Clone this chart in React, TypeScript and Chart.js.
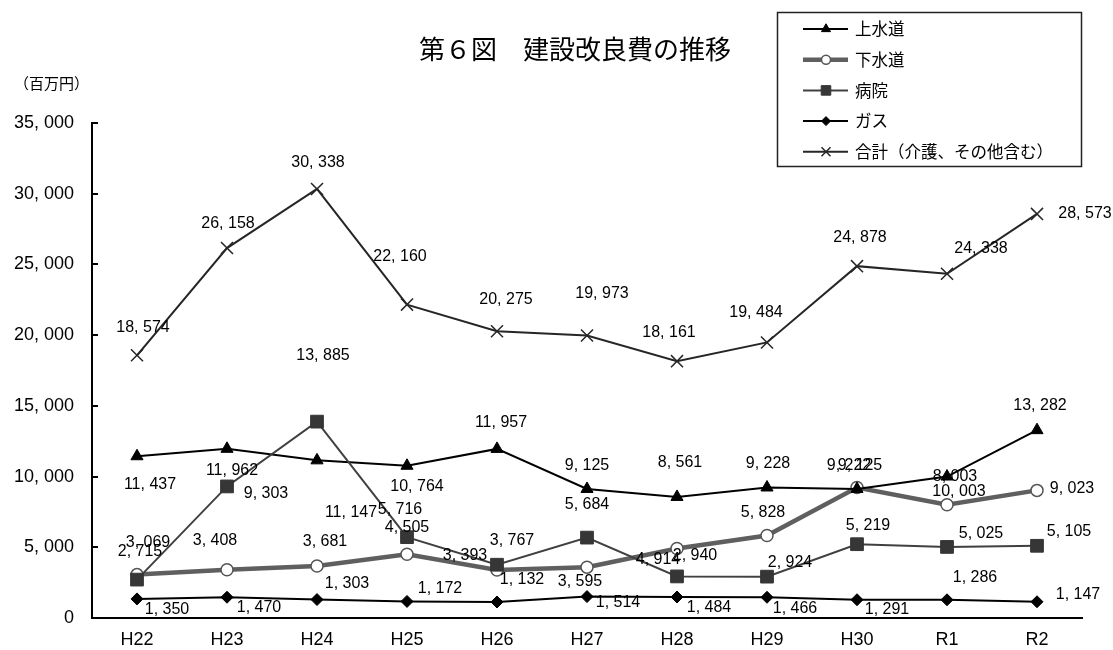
import React, { useEffect, useRef } from 'react';
import { Chart, registerables } from 'chart.js';
import { drawPoint } from 'chart.js/helpers';

Chart.register(...registerables);

// 年度
const categories = ['H22', 'H23', 'H24', 'H25', 'H26', 'H27', 'H28', 'H29', 'H30', 'R1', 'R2'];

// 建設改良費（百万円）
const waterSupply = [11437, 11962, 11147, 10764, 11957, 9125, 8561, 9228, 9125, 10003, 13282];
const sewerage = [3069, 3408, 3681, 4505, 3393, 3595, 4914, 5828, 9222, 8003, 9023];
const hospital = [2715, 9303, 13885, 5716, 3767, 5684, 2940, 2924, 5219, 5025, 5105];
const gas = [1350, 1470, 1303, 1172, 1132, 1514, 1484, 1466, 1291, 1286, 1147];
const total = [18574, 26158, 30338, 22160, 20275, 19973, 18161, 19484, 24878, 24338, 28573];

const seriesNames = ['上水道', '下水道', '病院', 'ガス', '合計（介護、その他含む）'];

const yMin = 0;
const yMax = 35000;
const yStep = 5000;

// data label placement relative to each marker: [dx, dy] in px
const waterSupplyLabelOffsets = [[13, 28], [5, 22], [34, 52], [10, 21], [4, -26], [0, -23], [3, -34], [1, -24], [3, -23], [12, 15], [3, -25]];
const sewerageLabelOffsets = [[11, -32], [-12, -29], [8, -24], [0, -27], [-32, -14], [-7, 14], [-19, 11], [-4, -23], [-8, -22], [8, -28], [35, -2]];
const hospitalLabelOffsets = [[3, -28], [39, 7], [6, -66], [-7, -28], [15, -24], [0, -33], [18, -21], [23, -14], [11, -19], [34, -13], [32, -14]];
const gasLabelOffsets = [[30, 11], [32, 10], [30, -16], [33, -13], [25, -22], [31, 6], [32, 11], [28, 11], [30, 10], [28, -22], [41, -7]];
const totalLabelOffsets = [[6, -28], [1, -24], [1, -26], [-7, -48], [9, -32], [15, -42], [-8, -29], [-11, -30], [3, -29], [34, -25], [48, 0]];
const labelOffsets = [waterSupplyLabelOffsets, sewerageLabelOffsets, hospitalLabelOffsets, gasLabelOffsets, totalLabelOffsets];

const NUM_FONT = "'Liberation Sans', Arial, sans-serif";
const JP_FONT = "'Noto Sans CJK JP', 'Noto Sans', sans-serif";

const fmt = (v: number) => v.toLocaleString('en-US').replace(/,/g, ', ');

const decorPlugin = {
  id: 'decor',
  afterDatasetsDraw(chart: any) {
    const ctx = chart.ctx as CanvasRenderingContext2D;
    const ys = chart.scales.y;
    ctx.save();
    // inward tick marks on the value axis
    ctx.strokeStyle = '#000';
    ctx.lineWidth = 2;
    ys.ticks.forEach((_t: any, i: number) => {
      const py = Math.round(ys.getPixelForTick(i));
      ctx.beginPath();
      ctx.moveTo(ys.right, py);
      ctx.lineTo(ys.right + 6, py);
      ctx.stroke();
    });
    // value labels
    ctx.font = `16px ${NUM_FONT}`;
    ctx.fillStyle = '#000';
    ctx.textAlign = 'center';
    ctx.textBaseline = 'middle';
    chart.data.datasets.forEach((ds: any, di: number) => {
      const meta = chart.getDatasetMeta(di);
      const offs = labelOffsets[di];
      meta.data.forEach((pt: any, i: number) => {
        const [dx, dy] = offs[i];
        ctx.fillText(fmt(ds.data[i]), pt.x + dx, pt.y + dy);
      });
    });
    ctx.restore();
  },
  afterDraw(chart: any) {
    const ctx = chart.ctx as CanvasRenderingContext2D;
    ctx.save();
    ctx.fillStyle = '#000';
    ctx.textBaseline = 'middle';

    // title
    ctx.font = `26px ${JP_FONT}`;
    ctx.textAlign = 'center';
    ctx.fillText('第６図　建設改良費の推移', 575, 49);

    // unit
    ctx.font = `15px ${JP_FONT}`;
    ctx.textAlign = 'left';
    ctx.fillText('（百万円）', 14, 83);

    // legend
    const boxL = 777, boxT = 12, boxW = 304, boxH = 154;
    ctx.strokeStyle = '#222';
    ctx.lineWidth = 1.5;
    ctx.strokeRect(boxL + 0.5, boxT + 0.5, boxW, boxH);
    ctx.font = `16.5px ${JP_FONT}`;
    chart.data.datasets.forEach((ds: any, i: number) => {
      const cy = 29 + i * 30.7;
      ctx.strokeStyle = ds.borderColor;
      ctx.lineWidth = ds.borderWidth;
      ctx.beginPath();
      ctx.moveTo(803, cy);
      ctx.lineTo(848, cy);
      ctx.stroke();
      ctx.fillStyle = ds.pointBackgroundColor;
      ctx.strokeStyle = ds.pointBorderColor;
      ctx.lineWidth = ds.pointBorderWidth;
      drawPoint(ctx, {
        pointStyle: ds.pointStyle,
        rotation: 0,
        radius: ds.pointRadius * 0.75,
        borderWidth: ds.pointBorderWidth,
      }, 826, cy);
      ctx.fillStyle = '#000';
      ctx.fillText(seriesNames[i], 855, cy);
    });
    ctx.restore();
  },
};

export default function App() {
  const canvasRef = useRef<HTMLCanvasElement | null>(null);

  useEffect(() => {
    if (!canvasRef.current) return;
    const chart = new Chart(canvasRef.current, {
      type: 'line',
      data: {
        labels: categories,
        datasets: [
          {
            label: seriesNames[0],
            data: waterSupply,
            borderColor: '#000000',
            borderWidth: 2,
            pointStyle: 'triangle',
            pointRadius: 7,
            pointBackgroundColor: '#000000',
            pointBorderColor: '#000000',
            pointBorderWidth: 1,
            order: 4,
          },
          {
            label: seriesNames[1],
            data: sewerage,
            borderColor: '#5f5f5f',
            borderWidth: 4.5,
            pointStyle: 'circle',
            pointRadius: 6,
            pointBackgroundColor: '#ffffff',
            pointBorderColor: '#555555',
            pointBorderWidth: 1.5,
            order: 5,
          },
          {
            label: seriesNames[2],
            data: hospital,
            borderColor: '#404040',
            borderWidth: 2,
            pointStyle: 'rect',
            pointRadius: 9,
            pointBackgroundColor: '#363636',
            pointBorderColor: '#363636',
            pointBorderWidth: 1,
            order: 3,
          },
          {
            label: seriesNames[3],
            data: gas,
            borderColor: '#000000',
            borderWidth: 2,
            pointStyle: 'rectRot',
            pointRadius: 6,
            pointBackgroundColor: '#000000',
            pointBorderColor: '#000000',
            pointBorderWidth: 1,
            order: 2,
          },
          {
            label: seriesNames[4],
            data: total,
            borderColor: '#262626',
            borderWidth: 2,
            pointStyle: 'crossRot',
            pointRadius: 8.5,
            pointBackgroundColor: '#262626',
            pointBorderColor: '#262626',
            pointBorderWidth: 1.5,
            order: 1,
          },
        ],
      },
      options: {
        animation: false,
        responsive: true,
        maintainAspectRatio: false,
        layout: { padding: { top: 123, right: 31, left: 0, bottom: 0 } },
        plugins: {
          legend: { display: false },
          tooltip: { enabled: false },
          title: { display: false },
        },
        elements: { line: { tension: 0 } },
        scales: {
          x: {
            type: 'category',
            offset: true,
            grid: { display: false, drawTicks: false },
            border: { display: true, color: '#000', width: 2 },
            ticks: {
              color: '#000',
              padding: 11,
              font: { family: NUM_FONT, size: 18 },
              maxRotation: 0,
            },
            afterFit: (s: any) => { s.height = 32; },
          },
          y: {
            min: yMin,
            max: yMax,
            grid: { display: false, drawTicks: false },
            border: { display: true, color: '#000', width: 2 },
            ticks: {
              stepSize: yStep,
              color: '#000',
              padding: 18,
              font: { family: NUM_FONT, size: 18 },
              callback: (v: any) => fmt(Number(v)),
            },
            afterFit: (s: any) => { s.width = 92; },
          },
        },
      },
      plugins: [decorPlugin],
    });
    return () => chart.destroy();
  }, []);

  return (
    <div style={{ position: 'absolute', left: 0, top: 0, width: 1113, height: 650, background: '#fff' }}>
      <canvas ref={canvasRef} />
    </div>
  );
}
